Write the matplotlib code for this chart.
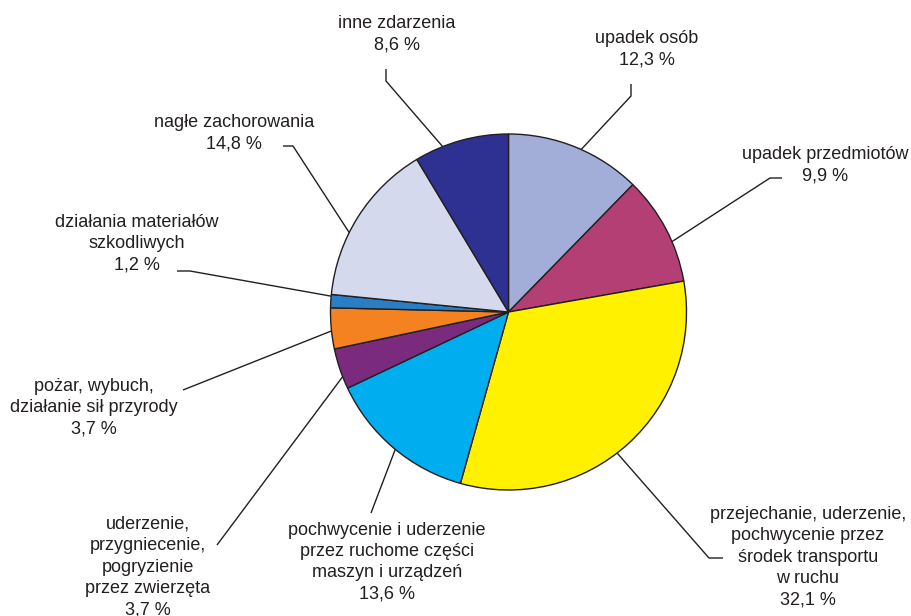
import numpy as np
import matplotlib
matplotlib.use('Agg')
import matplotlib.pyplot as plt

W, H = 912, 616

labels = ['upadek osób\n12,3 %',
          'upadek przedmiotów\n9,9 %',
          'przejechanie, uderzenie,\npochwycenie przez\nśrodek transportu\nw ruchu\n32,1 %',
          'pochwycenie i uderzenie\nprzez ruchome części\nmaszyn i urządzeń\n13,6 %',
          'uderzenie,\nprzygniecenie,\npogryzienie\nprzez zwierzęta\n3,7 %',
          'pożar, wybuch,\ndziałanie sił przyrody\n3,7 %',
          'działania materiałów\nszkodliwych\n1,2 %',
          'nagłe zachorowania\n14,8 %',
          'inne zdarzenia\n8,6 %']
values = [12.3, 9.9, 32.1, 13.6, 3.7, 3.7, 1.2, 14.8, 8.6]
colors = ['#A3AED8', '#B33F75', '#FFF100', '#00AEEF', '#7A2B7E',
          '#F58220', '#2A7EC3', '#D5D9EE', '#2E3192']

# layout (pixel coords, y down): text centre, anchor angle on rim, elbow, line end
text_pos = [(647, 49), (825, 165), (808, 557), (387, 562), (148, 567),
            (94, 408), (137, 244), (234, 133), (397, 34)]
anchor_deg = [65.9, 23.3, -52.4, 230.5, 201.3, 186.1, 174.9, 153.5, 111.7]
elbows = [(631, 96), (770, 178), (709, 558), None, None, None, (190, 271), (293, 146), (386, 81)]
ends = [(631, 84), (782, 178), (723, 558), (371, 513), (217, 545), (183, 390),
        (177, 271), (283, 146), (386, 69)]

cx, cy, r = 508.5, H - 312, 178

fig = plt.figure(figsize=(W / 100, H / 100), dpi=100)
ax = fig.add_axes([0, 0, 1, 1])
ax.axis('off')

ax.pie(values, colors=colors, startangle=90, counterclock=False,
       center=(cx, cy), radius=r,
       wedgeprops=dict(edgecolor='#231F20', linewidth=1.0))
ax.set_xlim(0, W)
ax.set_ylim(0, H)
ax.set_aspect('equal')

for i, lab in enumerate(labels):
    a = np.deg2rad(anchor_deg[i])
    xs = [cx + r * np.cos(a)]
    ys = [cy + r * np.sin(a)]
    if elbows[i] is not None:
        xs.append(elbows[i][0])
        ys.append(H - elbows[i][1])
    xs.append(ends[i][0])
    ys.append(H - ends[i][1])
    ax.plot(xs, ys, color='#231F20', lw=1.0, solid_capstyle='butt')
    ax.text(text_pos[i][0], H - text_pos[i][1], lab, ha='center', va='center',
            fontsize=13, family='Liberation Sans', color='#231F20', linespacing=1.33)

fig.savefig('out.png', dpi=100)
